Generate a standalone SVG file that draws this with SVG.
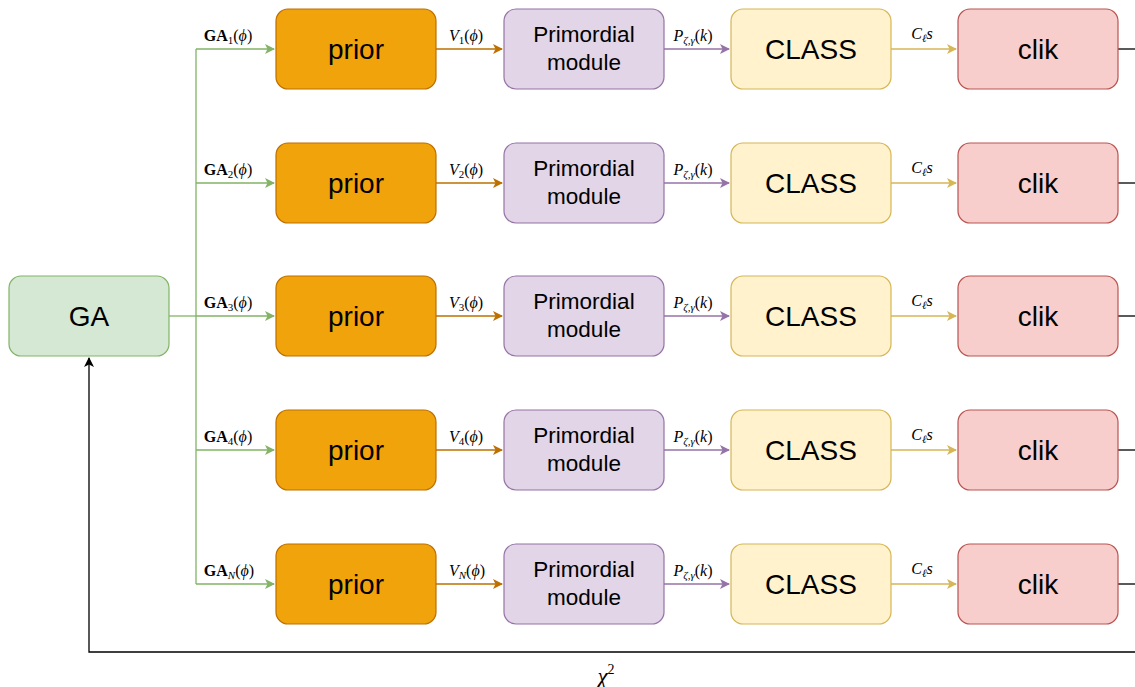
<svg xmlns="http://www.w3.org/2000/svg" width="1135" height="687" viewBox="0 0 1135 687">
<style>
.box{stroke-width:1.2}
.ga{fill:#d5e8d4;stroke:#82b366}
.pr{fill:#f0a30a;stroke:#bd7000}
.pm{fill:#e1d5e7;stroke:#9673a6}
.cl{fill:#fff2cc;stroke:#d6b656}
.ck{fill:#f8cecc;stroke:#b85450}
.t{font-family:"Liberation Sans",Arial,sans-serif;fill:#000;text-anchor:middle}
.big{font-size:28px}
.mid{font-size:22.5px}
.m{font-family:"Liberation Serif","Times New Roman",serif;font-size:16px;fill:#000;text-anchor:middle}
.s{font-size:11px}
.i{font-style:italic}
.b{font-weight:bold}
.gl{stroke:#82b366;fill:none;stroke-width:1.3}
.ol{stroke:#bd7000;fill:none;stroke-width:1.3}
.pl{stroke:#9673a6;fill:none;stroke-width:1.3}
.yl{stroke:#d6b656;fill:none;stroke-width:1.3}
.kl{stroke:#000;fill:none;stroke-width:1.3}
</style>
<defs>
<marker id="ag" markerWidth="10" markerHeight="10" refX="9" refY="5" orient="auto" markerUnits="userSpaceOnUse"><path d="M0,0 L10,5 L0,10 L2.5,5 Z" fill="#82b366"/></marker>
<marker id="ao" markerWidth="10" markerHeight="10" refX="9" refY="5" orient="auto" markerUnits="userSpaceOnUse"><path d="M0,0 L10,5 L0,10 L2.5,5 Z" fill="#bd7000"/></marker>
<marker id="ap" markerWidth="10" markerHeight="10" refX="9" refY="5" orient="auto" markerUnits="userSpaceOnUse"><path d="M0,0 L10,5 L0,10 L2.5,5 Z" fill="#9673a6"/></marker>
<marker id="ay" markerWidth="10" markerHeight="10" refX="9" refY="5" orient="auto" markerUnits="userSpaceOnUse"><path d="M0,0 L10,5 L0,10 L2.5,5 Z" fill="#d6b656"/></marker>
<marker id="ak" markerWidth="10" markerHeight="10" refX="9" refY="5" orient="auto" markerUnits="userSpaceOnUse"><path d="M0,0 L10,5 L0,10 L2.5,5 Z" fill="#000"/></marker>
</defs>

<g id="connectors">
<path class="gl" d="M169,316 H196"/>
<path class="gl" d="M196,49 V584"/>
<path class="gl" d="M196,49 H274" marker-end="url(#ag)"/>
<path class="gl" d="M196,183 H274" marker-end="url(#ag)"/>
<path class="gl" d="M196,316 H274" marker-end="url(#ag)"/>
<path class="gl" d="M196,450 H274" marker-end="url(#ag)"/>
<path class="gl" d="M196,584 H274" marker-end="url(#ag)"/>

<path class="ol" d="M436,49 H502" marker-end="url(#ao)"/>
<path class="ol" d="M436,183 H502" marker-end="url(#ao)"/>
<path class="ol" d="M436,316 H502" marker-end="url(#ao)"/>
<path class="ol" d="M436,450 H502" marker-end="url(#ao)"/>
<path class="ol" d="M436,584 H502" marker-end="url(#ao)"/>

<path class="pl" d="M664,49 H729" marker-end="url(#ap)"/>
<path class="pl" d="M664,183 H729" marker-end="url(#ap)"/>
<path class="pl" d="M664,316 H729" marker-end="url(#ap)"/>
<path class="pl" d="M664,450 H729" marker-end="url(#ap)"/>
<path class="pl" d="M664,584 H729" marker-end="url(#ap)"/>

<path class="yl" d="M891,49 H956" marker-end="url(#ay)"/>
<path class="yl" d="M891,183 H956" marker-end="url(#ay)"/>
<path class="yl" d="M891,316 H956" marker-end="url(#ay)"/>
<path class="yl" d="M891,450 H956" marker-end="url(#ay)"/>
<path class="yl" d="M891,584 H956" marker-end="url(#ay)"/>

<path class="kl" d="M1118,49 H1135"/>
<path class="kl" d="M1118,183 H1135"/>
<path class="kl" d="M1118,316 H1135"/>
<path class="kl" d="M1118,450 H1135"/>
<path class="kl" d="M1118,584 H1135"/>
<path class="kl" d="M1135,652 H89 V358" marker-end="url(#ak)"/>

<text class="m" x="228" y="41"><tspan class="b">GA</tspan><tspan class="s" dy="3">1</tspan><tspan dy="-3">(</tspan><tspan class="i">ϕ</tspan>)</text>
<text class="m" x="228" y="175"><tspan class="b">GA</tspan><tspan class="s" dy="3">2</tspan><tspan dy="-3">(</tspan><tspan class="i">ϕ</tspan>)</text>
<text class="m" x="228" y="308"><tspan class="b">GA</tspan><tspan class="s" dy="3">3</tspan><tspan dy="-3">(</tspan><tspan class="i">ϕ</tspan>)</text>
<text class="m" x="228" y="442"><tspan class="b">GA</tspan><tspan class="s" dy="3">4</tspan><tspan dy="-3">(</tspan><tspan class="i">ϕ</tspan>)</text>
<text class="m" x="229" y="576"><tspan class="b">GA</tspan><tspan class="s i" dy="3">N</tspan><tspan dy="-3">(</tspan><tspan class="i">ϕ</tspan>)</text>

<text class="m" x="466" y="41"><tspan class="i">V</tspan><tspan class="s" dy="3">1</tspan><tspan dy="-3">(</tspan><tspan class="i">ϕ</tspan>)</text>
<text class="m" x="466" y="175"><tspan class="i">V</tspan><tspan class="s" dy="3">2</tspan><tspan dy="-3">(</tspan><tspan class="i">ϕ</tspan>)</text>
<text class="m" x="466" y="308"><tspan class="i">V</tspan><tspan class="s" dy="3">3</tspan><tspan dy="-3">(</tspan><tspan class="i">ϕ</tspan>)</text>
<text class="m" x="466" y="442"><tspan class="i">V</tspan><tspan class="s" dy="3">4</tspan><tspan dy="-3">(</tspan><tspan class="i">ϕ</tspan>)</text>
<text class="m" x="467" y="576"><tspan class="i">V</tspan><tspan class="s i" dy="3">N</tspan><tspan dy="-3">(</tspan><tspan class="i">ϕ</tspan>)</text>

<text class="m" x="693" y="41"><tspan class="i">P</tspan><tspan class="s i" dy="3">ζ,γ</tspan><tspan dy="-3">(</tspan><tspan class="i">k</tspan>)</text>
<text class="m" x="693" y="175"><tspan class="i">P</tspan><tspan class="s i" dy="3">ζ,γ</tspan><tspan dy="-3">(</tspan><tspan class="i">k</tspan>)</text>
<text class="m" x="693" y="308"><tspan class="i">P</tspan><tspan class="s i" dy="3">ζ,γ</tspan><tspan dy="-3">(</tspan><tspan class="i">k</tspan>)</text>
<text class="m" x="693" y="442"><tspan class="i">P</tspan><tspan class="s i" dy="3">ζ,γ</tspan><tspan dy="-3">(</tspan><tspan class="i">k</tspan>)</text>
<text class="m" x="693" y="576"><tspan class="i">P</tspan><tspan class="s i" dy="3">ζ,γ</tspan><tspan dy="-3">(</tspan><tspan class="i">k</tspan>)</text>

<text class="m i" x="922" y="39">C<tspan class="s" dy="3">ℓ</tspan><tspan dy="-3">s</tspan></text>
<text class="m i" x="922" y="173">C<tspan class="s" dy="3">ℓ</tspan><tspan dy="-3">s</tspan></text>
<text class="m i" x="922" y="306">C<tspan class="s" dy="3">ℓ</tspan><tspan dy="-3">s</tspan></text>
<text class="m i" x="922" y="440">C<tspan class="s" dy="3">ℓ</tspan><tspan dy="-3">s</tspan></text>
<text class="m i" x="922" y="574">C<tspan class="s" dy="3">ℓ</tspan><tspan dy="-3">s</tspan></text>

<text class="m" x="606" y="684" style="font-size:23px"><tspan class="i">χ</tspan><tspan style="font-size:14px" dy="-10">2</tspan></text>
</g>

<g id="ga"><rect class="box ga" x="9" y="276" width="160" height="80" rx="12"/><text class="t big" x="89" y="326">GA</text></g>

<g id="prior1"><rect class="box pr" x="276" y="9" width="160" height="80" rx="12"/><text class="t big" x="356" y="59">prior</text></g>
<g id="prior2"><rect class="box pr" x="276" y="143" width="160" height="80" rx="12"/><text class="t big" x="356" y="193">prior</text></g>
<g id="prior3"><rect class="box pr" x="276" y="276" width="160" height="80" rx="12"/><text class="t big" x="356" y="326">prior</text></g>
<g id="prior4"><rect class="box pr" x="276" y="410" width="160" height="80" rx="12"/><text class="t big" x="356" y="460">prior</text></g>
<g id="priorN"><rect class="box pr" x="276" y="544" width="160" height="80" rx="12"/><text class="t big" x="356" y="594">prior</text></g>

<g id="prim1"><rect class="box pm" x="504" y="9" width="160" height="80" rx="12"/><text class="t mid" x="584" y="42">Primordial</text><text class="t mid" x="584" y="70">module</text></g>
<g id="prim2"><rect class="box pm" x="504" y="143" width="160" height="80" rx="12"/><text class="t mid" x="584" y="176">Primordial</text><text class="t mid" x="584" y="204">module</text></g>
<g id="prim3"><rect class="box pm" x="504" y="276" width="160" height="80" rx="12"/><text class="t mid" x="584" y="309">Primordial</text><text class="t mid" x="584" y="337">module</text></g>
<g id="prim4"><rect class="box pm" x="504" y="410" width="160" height="80" rx="12"/><text class="t mid" x="584" y="443">Primordial</text><text class="t mid" x="584" y="471">module</text></g>
<g id="primN"><rect class="box pm" x="504" y="544" width="160" height="80" rx="12"/><text class="t mid" x="584" y="577">Primordial</text><text class="t mid" x="584" y="605">module</text></g>

<g id="class1"><rect class="box cl" x="731" y="9" width="160" height="80" rx="12"/><text class="t big" x="811" y="59">CLASS</text></g>
<g id="class2"><rect class="box cl" x="731" y="143" width="160" height="80" rx="12"/><text class="t big" x="811" y="193">CLASS</text></g>
<g id="class3"><rect class="box cl" x="731" y="276" width="160" height="80" rx="12"/><text class="t big" x="811" y="326">CLASS</text></g>
<g id="class4"><rect class="box cl" x="731" y="410" width="160" height="80" rx="12"/><text class="t big" x="811" y="460">CLASS</text></g>
<g id="classN"><rect class="box cl" x="731" y="544" width="160" height="80" rx="12"/><text class="t big" x="811" y="594">CLASS</text></g>

<g id="clik1"><rect class="box ck" x="958" y="9" width="160" height="80" rx="12"/><text class="t big" x="1038" y="59">clik</text></g>
<g id="clik2"><rect class="box ck" x="958" y="143" width="160" height="80" rx="12"/><text class="t big" x="1038" y="193">clik</text></g>
<g id="clik3"><rect class="box ck" x="958" y="276" width="160" height="80" rx="12"/><text class="t big" x="1038" y="326">clik</text></g>
<g id="clik4"><rect class="box ck" x="958" y="410" width="160" height="80" rx="12"/><text class="t big" x="1038" y="460">clik</text></g>
<g id="clikN"><rect class="box ck" x="958" y="544" width="160" height="80" rx="12"/><text class="t big" x="1038" y="594">clik</text></g>
</svg>
